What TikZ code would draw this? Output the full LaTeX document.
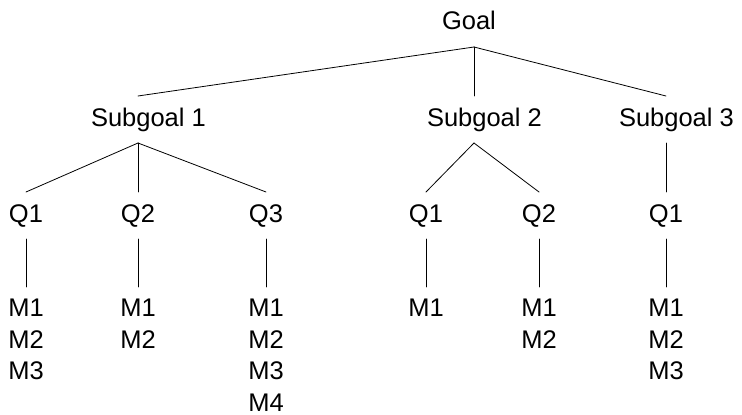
\documentclass[tikz,border=0pt]{standalone}
\usepackage{fontspec}
\setmainfont{Liberation Sans}
\newcommand{\lbox}[2]{\makebox[#1pt][l]{#2}}

\begin{document}
\begin{tikzpicture}[
  x=1pt, y=-1pt,
  line cap=round,
  lbl/.style={
    inner sep=0pt, outer ysep=12pt,
    text height=18pt, text depth=5pt,
    font=\fontsize{25.5}{31.5}\selectfont
  },
  mlist/.style={
    inner sep=0pt, outer ysep=12pt,
    align=left, anchor=north,
    font=\fontsize{25.5}{31.5}\selectfont
  },
  link/.style={line width=0.8pt}
]
  \useasboundingbox (0,0) rectangle (742,415);

  % Goal
  \node[lbl, anchor=base] (goal) at (474,30) {\lbox{64}{Goal}};

  % Subgoals
  \node[lbl, anchor=base] (sub1) at (138,126) {\lbox{94}{Subgoal 1}};
  \node[lbl, anchor=base] (sub2) at (474,126) {\lbox{94}{Subgoal 2}};
  \node[lbl, anchor=base] (sub3) at (666,126) {\lbox{94}{Subgoal 3}};

  % Questions
  \node[lbl, anchor=base] (q11) at (26,222)  {Q1};
  \node[lbl, anchor=base] (q12) at (138,222) {Q2};
  \node[lbl, anchor=base] (q13) at (266,222) {Q3};
  \node[lbl, anchor=base] (q21) at (426,222) {Q1};
  \node[lbl, anchor=base] (q22) at (539,222) {Q2};
  \node[lbl, anchor=base] (q31) at (666,222) {Q1};

  % Metrics
  \node[mlist] (m11) at (26,287)  {M1\\M2\\M3};
  \node[mlist] (m12) at (138,287) {M1\\M2};
  \node[mlist] (m13) at (266,287) {M1\\M2\\M3\\M4};
  \node[mlist] (m21) at (426,287) {M1};
  \node[mlist] (m22) at (539,287) {M1\\M2};
  \node[mlist] (m31) at (666,287) {M1\\M2\\M3};

  % Goal to subgoals
  \foreach \s in {sub1,sub2,sub3}
    \draw[link] (goal.south) -- (\s.north);

  % Subgoals to questions
  \foreach \s/\q in {sub1/q11,sub1/q12,sub1/q13,sub2/q21,sub2/q22,sub3/q31}
    \draw[link] (\s.south) -- (\q.north);

  % Questions to metrics
  \foreach \q/\m in {q11/m11,q12/m12,q13/m13,q21/m21,q22/m22,q31/m31}
    \draw[link] (\q.south) -- (\m.north);
\end{tikzpicture}
\end{document}
